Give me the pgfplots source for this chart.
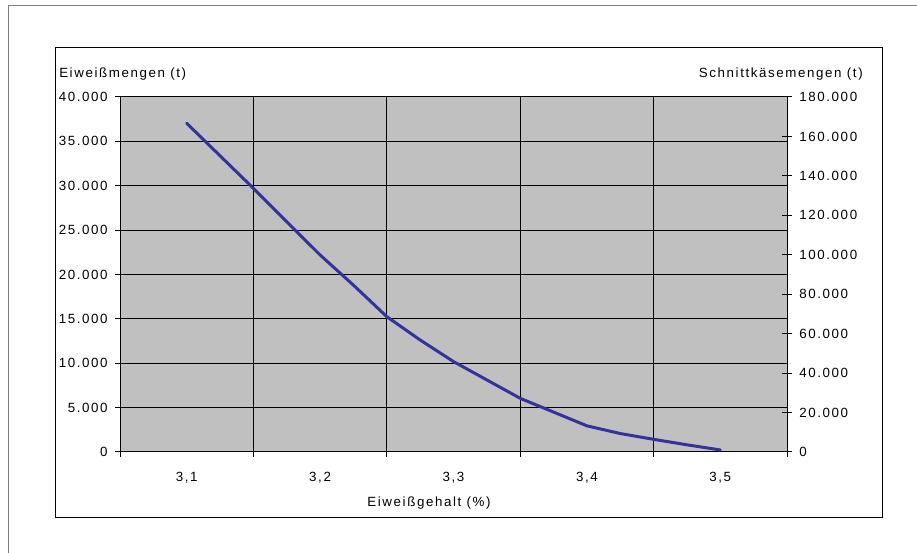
\documentclass[border=0pt]{standalone}
\usepackage{pgfplots}
\pgfplotsset{compat=1.18}
\usepackage{fontspec}
\setmainfont[LetterSpace=12]{Liberation Sans}
\definecolor{plotbg}{RGB}{192,192,192}
\definecolor{linecol}{RGB}{51,51,153}
\definecolor{framegray}{RGB}{128,128,128}
\begin{document}
\fontsize{10}{12}\selectfont
\begin{tikzpicture}[x=0.75pt,y=0.75pt]
\useasboundingbox (0,0) rectangle (917,553);
\draw[framegray, line width=0.75pt] (8,0) -- (8,547) -- (917,547);
\draw[black, line width=0.75pt] (55,35) rectangle (882,505);
\begin{axis}[
  at={(90pt,75.75pt)}, anchor=south west,
  scale only axis, width=500.25pt, height=266.25pt,
  xmin=3.05, xmax=3.55, ymin=0, ymax=40000,
  axis background/.style={fill=plotbg},
  axis line style={black, line width=0.75pt},
  tick pos=left, tick align=center, major tick length=7.5pt,
  tick style={black, line width=0.75pt},
  xtick={3.05,3.15,3.25,3.35,3.45,3.55}, xticklabels={},
  extra x ticks={3.1,3.2,3.3,3.4,3.5},
  extra x tick labels={{3,1},{3,2},{3,3},{3,4},{3,5}},
  extra x tick style={grid=none, tick style={draw=none}},
  ytick={0,5000,...,40000},
  scaled y ticks=false,
  xmajorgrids, ymajorgrids,
  grid style={black, line width=0.75pt},
  /pgf/number format/assume math mode=true,
  tick label style={font=\fontsize{10}{12}\selectfont},
  yticklabel style={/pgf/number format/fixed, /pgf/number format/1000 sep={.}, xshift=-2pt},
  xticklabel style={yshift=-8pt},
]
\addplot[linecol, line width=2.25pt, line join=round, line cap=round] coordinates {
(3.1,37040) (3.15,29710) (3.2,22200) (3.225,18800) (3.25,15250) (3.275,12620)
(3.3,10190) (3.35,6050) (3.4,2950) (3.425,2080) (3.45,1430) (3.475,810) (3.5,230)
};
\end{axis}
\begin{axis}[
  at={(90pt,75.75pt)}, anchor=south west,
  scale only axis, width=500.25pt, height=266.25pt,
  xmin=3.05, xmax=3.55, ymin=0, ymax=180000,
  axis x line=none, axis y line*=right,
  axis line style={black, line width=0.75pt},
  tick align=center, major tick length=7.5pt,
  tick style={black, line width=0.75pt},
  ytick={0,20000,...,180000},
  scaled y ticks=false,
  /pgf/number format/assume math mode=true,
  tick label style={font=\fontsize{10}{12}\selectfont},
  yticklabel style={/pgf/number format/fixed, /pgf/number format/1000 sep={.}, xshift=2pt},
]
\addplot[draw=none] coordinates {(3.1,0)};
\end{axis}
\node[anchor=base west, inner sep=0pt] at (59,475.5) {Eiweißmengen (t)};
\node[anchor=base east, inner sep=0pt] at (863,475.5) {Schnittkäsemengen (t)};
\node[anchor=base, inner sep=0pt] at (429,46) {Eiweißgehalt (\%)};
\end{tikzpicture}
\end{document}
